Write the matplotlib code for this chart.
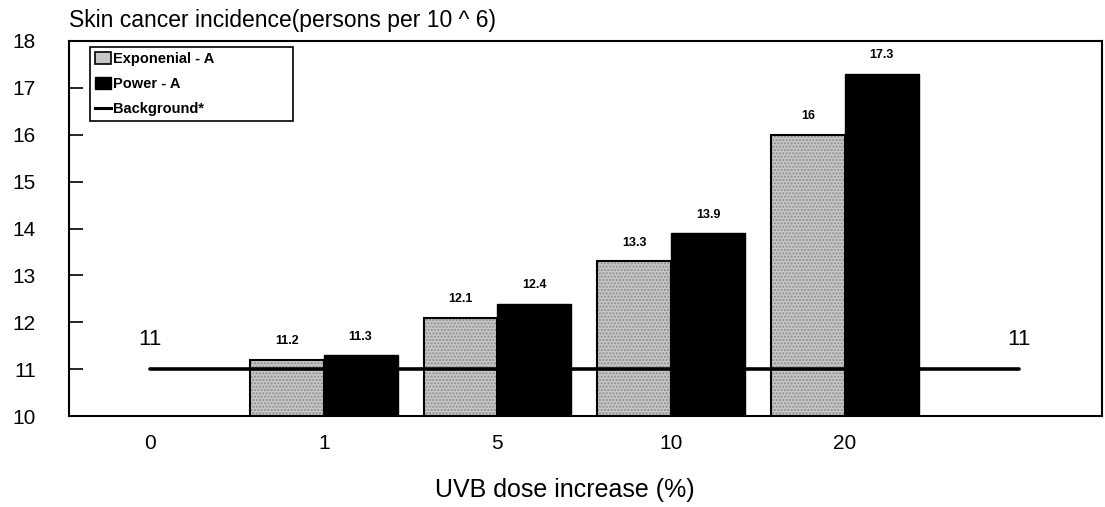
import matplotlib
matplotlib.use("Agg")
import matplotlib.pyplot as plt
import numpy as np
from matplotlib.patches import Patch
from matplotlib.lines import Line2D

categories = ["0", "1", "5", "10", "20"]
exponential = [None, 11.2, 12.1, 13.3, 16.0]
power = [None, 11.3, 12.4, 13.9, 17.3]
background_x = [0, 5]
background = [11, 11]
y_ticks = [10, 11, 12, 13, 14, 15, 16, 17, 18]

plt.rcParams['font.family'] = ['Liberation Sans', 'DejaVu Sans']

fig = plt.figure(figsize=(11.05, 5.07), dpi=100)
ax = fig.add_axes([69/1105, 1-416/507, (1102-69)/1105, (416-41)/507])

x = np.arange(len(categories))
w = 0.425
bx, by = [], []
px, py = [], []
for i, (e, p) in enumerate(zip(exponential, power)):
    if e is not None:
        bx.append(x[i] - w/2); by.append(e)
    if p is not None:
        px.append(x[i] + w/2); py.append(p)

# exponential bars: stippled gray
ax.bar(bx, [v - 10 for v in by], width=w, bottom=10, color='#c6c6c6',
       hatch='.....', edgecolor='#8c8c8c', linewidth=0, zorder=2)
ax.bar(bx, [v - 10 for v in by], width=w, bottom=10, fill=False,
       edgecolor='black', linewidth=1.5, zorder=3)
ax.bar(px, [v - 10 for v in py], width=w, bottom=10, color='black',
       edgecolor='black', linewidth=1.0, zorder=3)

ax.plot(background_x, background, color='black', lw=2.6, zorder=4,
        solid_capstyle='round')

for xi, v in zip(bx + px, by + py):
    ax.annotate(f"{v:g}", (xi, v), xytext=(0, 9), textcoords='offset points',
                ha='center', va='bottom', fontsize=9, fontweight='bold')
for xi, v in zip(background_x, background):
    ax.annotate(f"{v:g}", (xi, v), xytext=(0, 14), textcoords='offset points',
                ha='center', va='bottom', fontsize=16)

ax.set_xlim(-0.466, 5.48)
ax.set_ylim(10, 18)
ax.set_yticks(y_ticks)
ax.set_yticklabels([str(t) for t in y_ticks], fontsize=15)
ax.tick_params(axis='y', direction='in', length=10, width=1.2, pad=24)
ax.set_xticks(x)
ax.set_xticklabels(categories, fontsize=15)
ax.tick_params(axis='x', length=0, pad=13)
for s in ax.spines.values():
    s.set_linewidth(1.5)
    s.set_color('black')

ax.set_xlabel("UVB dose increase (%)", fontsize=18, labelpad=20)
ax.xaxis.set_label_coords((565-69)/1033, -0.165)
fig.text(69/1105, 1-21/507, "Skin cancer incidence(persons per 10 ^ 6)",
         fontsize=16.5, ha='left', va='center')

handles = [Patch(facecolor='#c6c6c6', edgecolor='black', linewidth=1.2),
           Patch(facecolor='black', edgecolor='black'),
           Line2D([0], [0], color='black', lw=2.2)]
leg = ax.legend(handles, ["Exponenial - A", "Power - A", "Background*"],
                loc='upper left', bbox_to_anchor=(21/1033, 0, 203/1033, 0.984),
                mode='expand', borderaxespad=0,
                handlelength=1.1, handleheight=0.8, handletextpad=0.15,
                labelspacing=0.75, borderpad=0.35, fancybox=False, framealpha=1,
                edgecolor='black', prop={'size': 10.5, 'weight': 'bold'})
leg.get_frame().set_linewidth(1.2)

fig.savefig("out.png", dpi=100)
